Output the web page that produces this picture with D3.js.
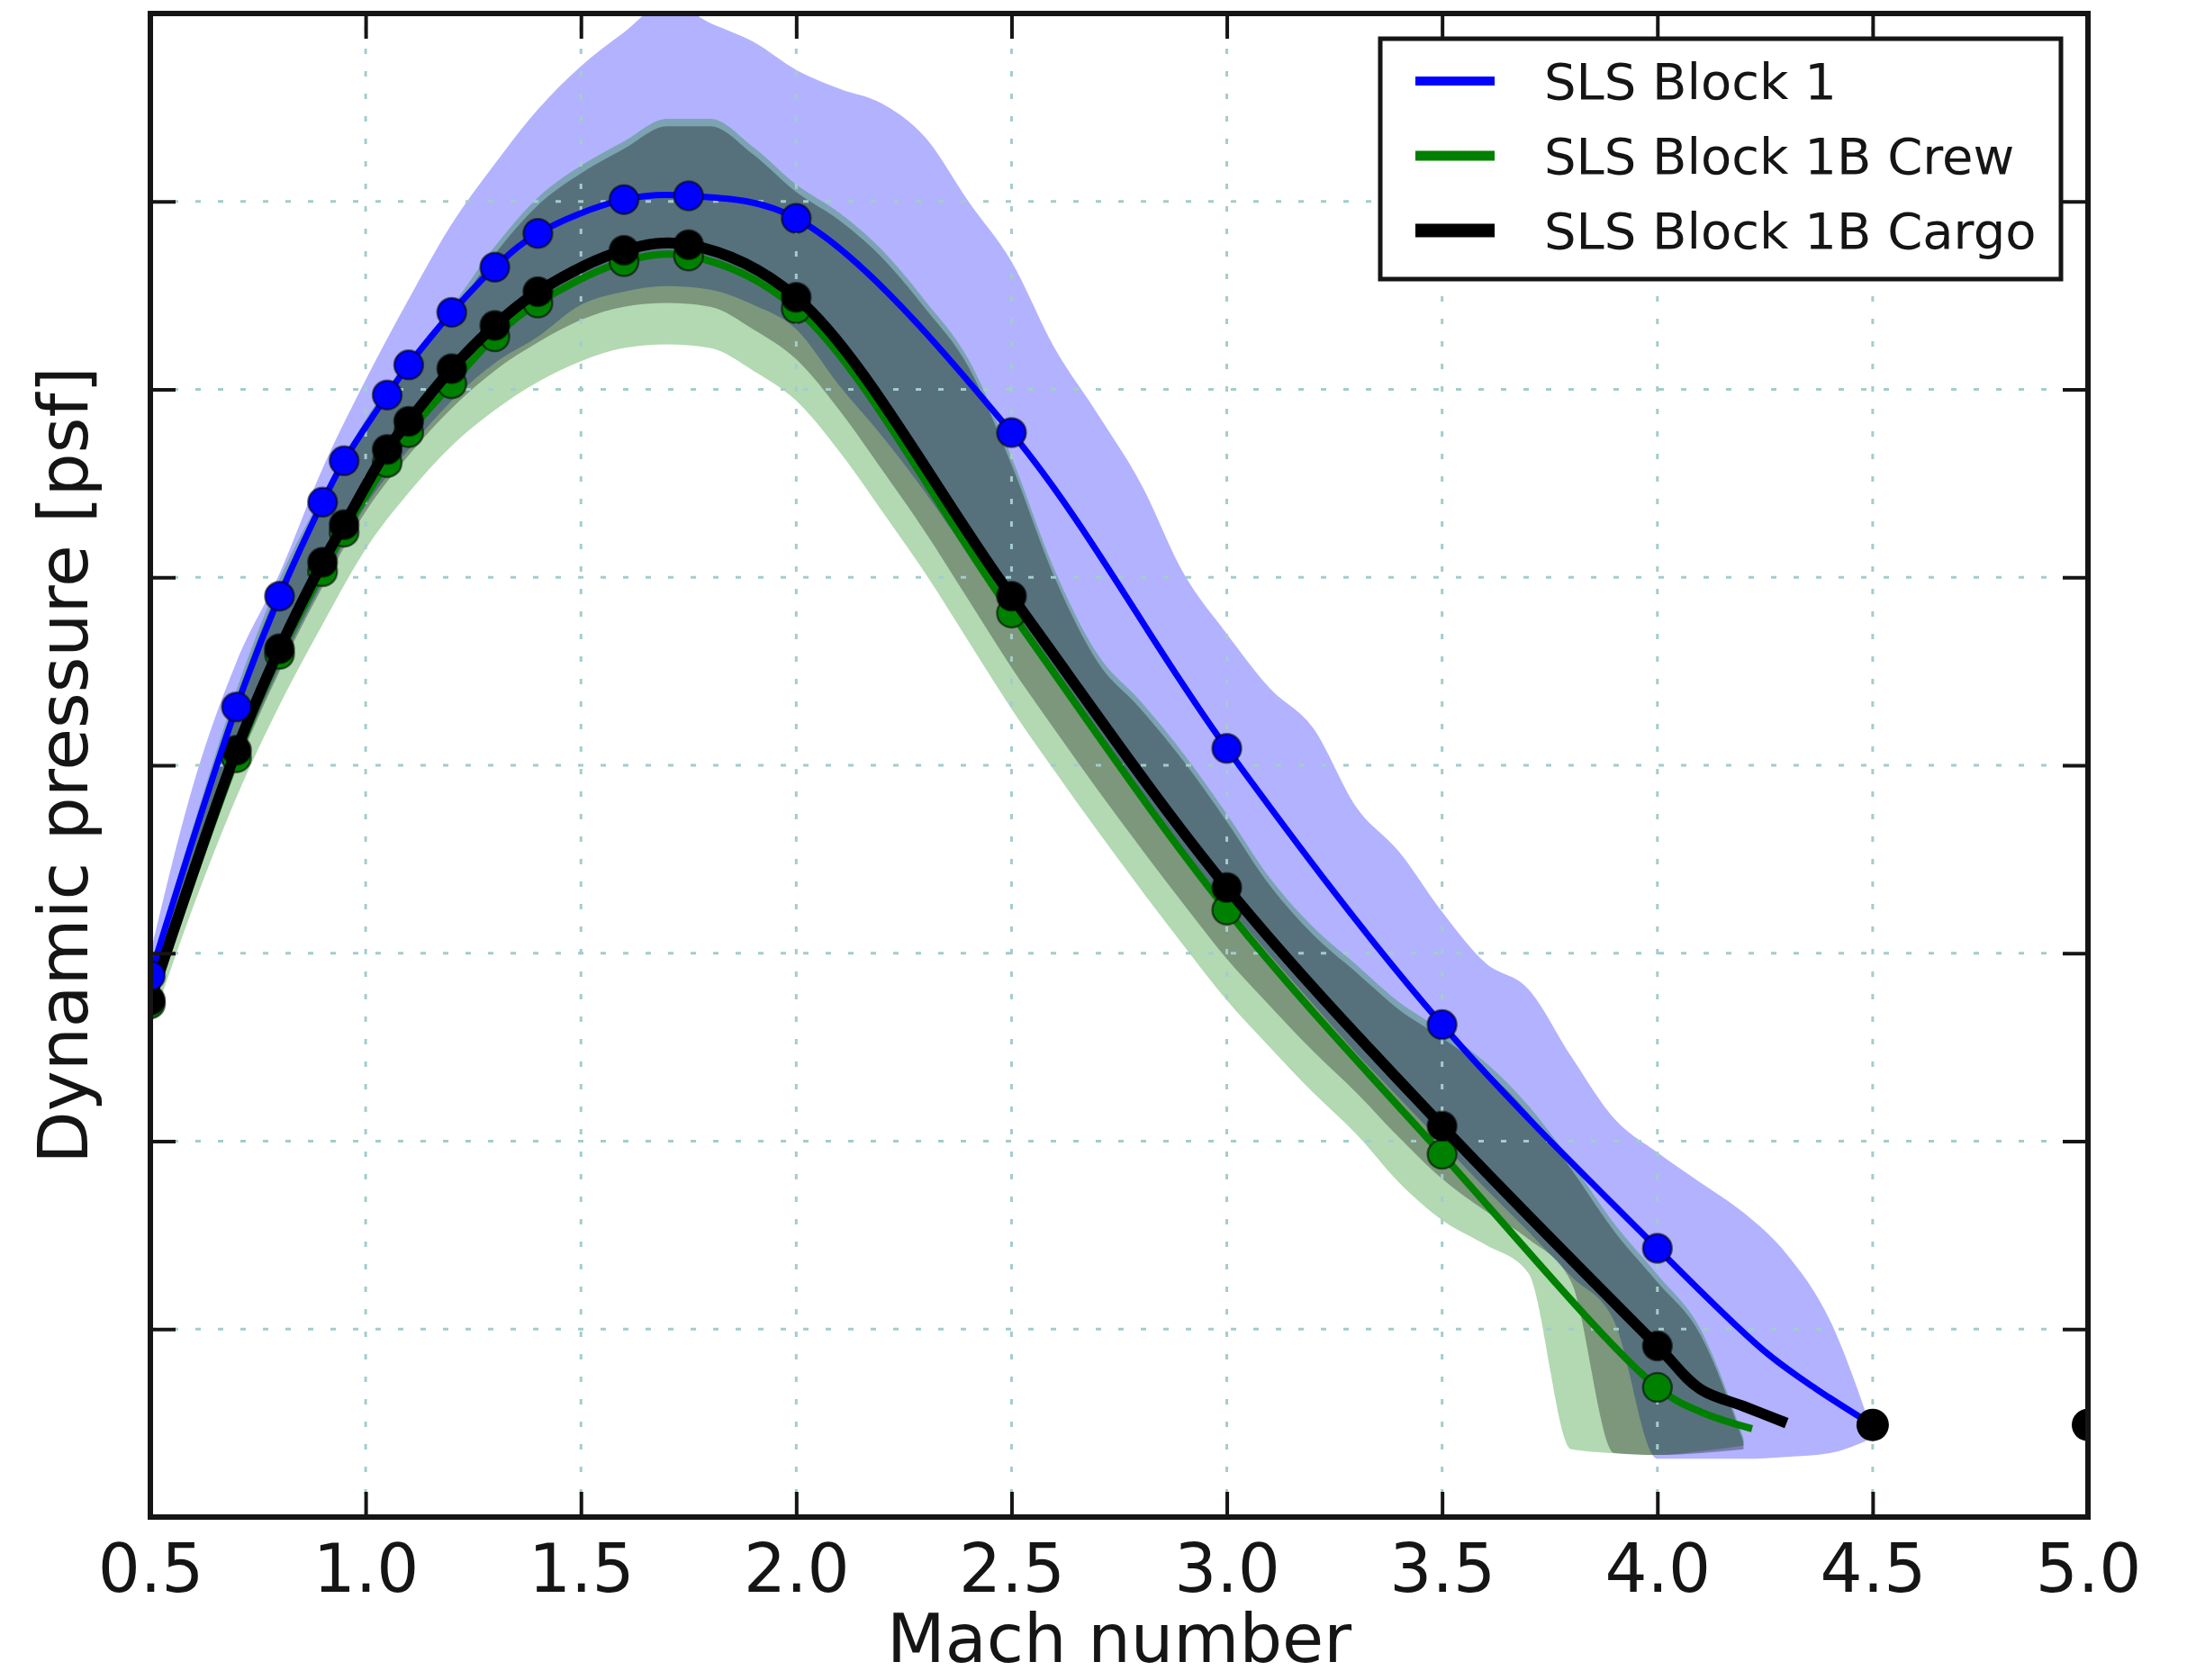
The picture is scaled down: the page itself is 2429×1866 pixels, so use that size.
<!DOCTYPE html>
<html>
<head>
<meta charset="utf-8">
<script src="https://cdn.jsdelivr.net/npm/d3@7"></script>
<style>
  body { margin: 0; background: #fff; }
  text { font-family: "DejaVu Sans", sans-serif; fill: #151515; }
</style>
</head>
<body>
<svg width="2429" height="1866"></svg>
<script>
const width = 2429
const height = 1866

// axis ticks
const xTicks = [0.5, 1.0, 1.5, 2.0, 2.5, 3.0, 3.5, 4.0, 4.5, 5.0]
const yTicks = [0, 100, 200, 300, 400, 500, 600, 700, 800]

// Mach numbers where the three trajectories have markers
const markerMach = [0.5, 0.7, 0.8, 0.9, 0.95, 1.05, 1.1, 1.2, 1.3, 1.4, 1.6, 1.75, 2.0, 2.5, 3.0, 3.5, 4.0]

const block1Q = [288, 431, 490, 540, 562, 597, 613, 641, 665, 683, 701, 703, 691, 577, 409, 262, 143]
const block1TailMach = [4.25, 4.37, 4.5]
const block1TailQ = [88, 68, 49]

const crewQ = [273, 404, 459, 503, 524, 561, 577, 603, 628, 646, 668, 671, 643, 481, 323, 193, 69]
const crewTailMach = [4.1, 4.22]
const crewTailQ = [56, 47]

const cargoQ = [275, 408, 462, 508, 528, 568, 583, 611, 634, 652, 674, 677, 649, 490, 335, 208, 91]
const cargoTailMach = [4.1, 4.2, 4.3]
const cargoTailQ = [68, 59, 50]

// big black dots at the end
const endMach = [4.5, 5.0]
const endQ = [49, 49]

// dispersion bands (lower / upper edge)
const bandMach = [0.5, 0.6, 0.7, 0.8, 0.9, 1.0, 1.1, 1.2, 1.3, 1.4, 1.5, 1.6, 1.7, 1.8, 1.9, 2.0,
  2.1, 2.2, 2.3, 2.4, 2.5, 2.6, 2.7, 2.8, 2.9, 3.0, 3.1, 3.2, 3.3, 3.4, 3.5, 3.6, 3.7, 3.8, 3.9, 4.0,
  4.1, 4.2, 4.3, 4.4, 4.5]

const block1Hi = [300, 390, 455, 502, 558, 605, 648, 688, 720, 749, 772, 790, 806, 795, 785, 770,
  760, 752, 734, 700, 668, 622, 587, 550, 502, 470, 441, 420, 378, 354, 322, 295, 281, 245, 212, 194,
  178, 162, 140, 105, 45]
const block1Lo = [270, 340, 400, 452, 497, 538, 568, 594, 614, 628, 645, 652, 655, 653, 645, 632,
  602, 575, 545, 512, 478, 447, 416, 385, 355, 326, 299, 273, 247, 223, 199, 175, 152, 128, 104, 31,
  31, 31, 32, 34, 42]

const crewHi = [292, 368, 440, 499, 544, 584, 616, 644, 676, 702, 719, 732, 744, 744, 729, 709,
  694, 674, 647, 616, 564, 504, 459, 434, 406, 374, 340, 314, 294, 274, 259, 242, 219, 189, 156, 129,
  100, 42, null, null, null]
const crewLo = [260, 325, 383, 432, 475, 515, 545, 570, 589, 604, 615, 622, 624, 622, 610, 594,
  567, 535, 502, 466, 430, 397, 365, 334, 304, 275, 250, 226, 204, 178, 158, 145, 130, 36, 34, 33,
  35, 38, null, null, null]

const cargoHi = [290, 365, 436, 495, 540, 580, 612, 640, 672, 698, 715, 728, 740, 740, 725, 705,
  690, 670, 643, 612, 560, 500, 455, 430, 402, 370, 336, 310, 290, 270, 255, 238, 215, 185, 152, 125,
  97, 40, null, null, null]
const cargoLo = [268, 335, 398, 450, 495, 535, 565, 590, 610, 625, 637, 644, 646, 644, 632, 616,
  589, 557, 524, 488, 452, 419, 387, 356, 326, 297, 272, 248, 226, 202, 180, 163, 148, 125, 34, 33,
  34, 36, null, null, null]

const x = d3.scaleLinear().domain([0.5, 5.0]).range([167, 2319])
const y = d3.scaleLinear().domain([0, 800]).range([1685, 15])

const svg = d3.select("svg")

svg.append("defs")
  .append("clipPath")
  .attr("id", "clip")
  .append("rect")
  .attr("x", x(0.5))
  .attr("y", y(800))
  .attr("width", x(5.0) - x(0.5))
  .attr("height", y(0) - y(800))

const plot = svg.append("g").attr("clip-path", "url(#clip)")

function band(lo, hi) {
  return d3.area()
    .defined((d, i) => hi[i] != null)
    .x((d) => x(d))
    .y0((d, i) => y(lo[i]))
    .y1((d, i) => y(hi[i]))
    .curve(d3.curveMonotoneX)
}

const bands = [
  {lo: block1Lo, hi: block1Hi, color: "#0000ff"},
  {lo: crewLo, hi: crewHi, color: "#008000"},
  {lo: cargoLo, hi: cargoHi, color: "#000000"},
]

plot.selectAll(".band")
  .data(bands)
  .join("path")
  .attr("class", "band")
  .attr("d", (b) => band(b.lo, b.hi)(bandMach))
  .attr("fill", (b) => b.color)
  .attr("fill-opacity", 0.3)

// dotted grid
const grid = plot.append("g")
  .attr("stroke", "#a4cccc")
  .attr("stroke-width", 3)
  .attr("stroke-dasharray", "6,19")

grid.selectAll(".gx")
  .data(xTicks.slice(1, -1))
  .join("line")
  .attr("x1", (d) => x(d))
  .attr("x2", (d) => x(d))
  .attr("y1", y(0))
  .attr("y2", y(800))

grid.selectAll(".gy")
  .data(yTicks.slice(1, -1))
  .join("line")
  .attr("class", "gy")
  .attr("x1", x(0.5))
  .attr("x2", x(5.0))
  .attr("y1", (d) => y(d))
  .attr("y2", (d) => y(d))

const line = d3.line()
  .x((d) => x(d[0]))
  .y((d) => y(d[1]))
  .curve(d3.curveCatmullRom.alpha(0.5))

const series = [
  {name: "SLS Block 1B Crew", color: "#008000", width: 8, q: crewQ, tailMach: crewTailMach, tailQ: crewTailQ},
  {name: "SLS Block 1B Cargo", color: "#000000", width: 12, q: cargoQ, tailMach: cargoTailMach, tailQ: cargoTailQ},
  {name: "SLS Block 1", color: "#0000ff", width: 7, q: block1Q, tailMach: block1TailMach, tailQ: block1TailQ},
]

series.forEach((s) => {
  const pts = markerMach.map((m, i) => [m, s.q[i]])
    .concat(s.tailMach.map((m, i) => [m, s.tailQ[i]]))

  plot.append("path")
    .datum(pts)
    .attr("d", line)
    .attr("fill", "none")
    .attr("stroke", s.color)
    .attr("stroke-width", s.width)
    .attr("stroke-linejoin", "round")

  plot.append("g")
    .selectAll("circle")
    .data(markerMach)
    .join("circle")
    .attr("cx", (d) => x(d))
    .attr("cy", (d, i) => y(s.q[i]))
    .attr("r", 16)
    .attr("fill", s.color)
    .attr("stroke", "#000")
    .attr("stroke-opacity", 0.55)
    .attr("stroke-width", 2.5)
})

plot.append("g")
  .selectAll("circle")
  .data(endMach)
  .join("circle")
  .attr("cx", (d) => x(d))
  .attr("cy", (d, i) => y(endQ[i]))
  .attr("r", 18)
  .attr("fill", "#000")

// axes, ticks pointing inward
function styleAxis(g) {
  g.select(".domain").remove()
  g.selectAll(".tick line").attr("stroke", "#151515").attr("stroke-width", 4)
}

svg.append("g")
  .attr("transform", `translate(0,${y(0)})`)
  .call(d3.axisBottom(x).tickValues(xTicks).tickSize(-28).tickPadding(30).tickFormat(d3.format(".1f")))
  .call(styleAxis)
  .call((g) => g.selectAll("text")
    .attr("font-size", 74)
    .attr("font-family", "DejaVu Sans")
    .attr("fill", "#151515"))

svg.append("g")
  .attr("transform", `translate(0,${y(800)})`)
  .call(d3.axisTop(x).tickValues(xTicks).tickSize(-28).tickFormat(""))
  .call(styleAxis)

svg.append("g")
  .attr("transform", `translate(${x(0.5)},0)`)
  .call(d3.axisLeft(y).tickValues(yTicks).tickSize(-28).tickFormat(""))
  .call(styleAxis)

svg.append("g")
  .attr("transform", `translate(${x(5.0)},0)`)
  .call(d3.axisRight(y).tickValues(yTicks).tickSize(-28).tickFormat(""))
  .call(styleAxis)

svg.append("rect")
  .attr("x", x(0.5))
  .attr("y", y(800))
  .attr("width", x(5.0) - x(0.5))
  .attr("height", y(0) - y(800))
  .attr("fill", "none")
  .attr("stroke", "#151515")
  .attr("stroke-width", 6)

svg.append("text")
  .attr("x", (x(0.5) + x(5.0)) / 2)
  .attr("y", 1846)
  .attr("text-anchor", "middle")
  .attr("font-size", 75)
  .text("Mach number")

svg.append("text")
  .attr("transform", `translate(97,${(y(0) + y(800)) / 2}) rotate(-90)`)
  .attr("text-anchor", "middle")
  .attr("font-size", 76)
  .text("Dynamic pressure [psf]")

// legend
const legendOrder = [series[2], series[0], series[1]]
const legend = svg.append("g").attr("transform", "translate(1533,43)")

legend.append("rect")
  .attr("width", 756)
  .attr("height", 267)
  .attr("fill", "#fff")
  .attr("stroke", "#151515")
  .attr("stroke-width", 5)

const rows = legend.selectAll(".row")
  .data(legendOrder)
  .join("g")
  .attr("transform", (d, i) => `translate(0,${47 + i * 83})`)

rows.append("line")
  .attr("x1", 39)
  .attr("x2", 127)
  .attr("stroke", (d) => d.color)
  .attr("stroke-width", (d) => d.width + 3)

rows.append("text")
  .attr("x", 182)
  .attr("y", 20)
  .attr("font-size", 56)
  .text((d) => d.name)
</script>
</body>
</html>
